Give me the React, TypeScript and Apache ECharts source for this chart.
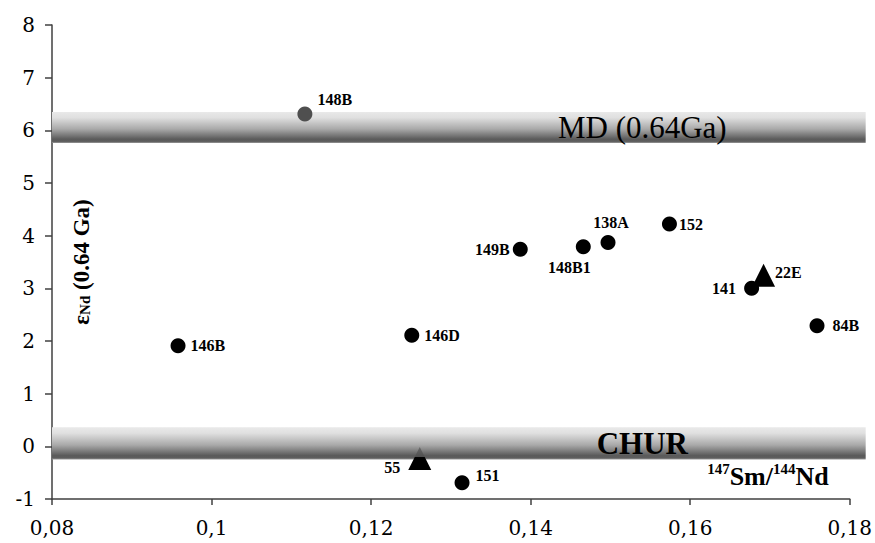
import React, { useEffect, useRef } from "react";
import * as echarts from "echarts";

// Sample points (147Sm/144Nd, εNd at 0.64 Ga)
const circleNames = ["148B", "146B", "146D", "149B", "148B1", "138A", "152", "141", "84B", "151"];
const circleX = [0.1117, 0.0958, 0.1251, 0.1387, 0.1466, 0.1497, 0.1574, 0.1677, 0.1759, 0.1314];
const circleY = [6.31, 1.91, 2.11, 3.74, 3.79, 3.87, 4.22, 3.0, 2.29, -0.69];

const triangleNames = ["22E", "55"];
const triangleX = [0.1692, 0.1261];
const triangleY = [3.25, -0.23];

// Reference bands
const bandNames = ["MD (0.64Ga)", "CHUR"];
const bandTop = [6.35, 0.36];
const bandBottom = [5.76, -0.25];
const bandStartX = 0.08;
const bandEndX = 0.182;
const bandLabelX = 0.154;

const xTicks = { min: 0.08, max: 0.18, interval: 0.02 };
const yTicks = { min: -1, max: 8, interval: 1 };

const SERIF = "'Liberation Serif', 'Times New Roman', serif";
const TICKFONT = "'DejaVu Serif', 'Liberation Serif', serif";

const labelCfg: Record<string, any> = {
  "148B": { position: "right", distance: 5, offset: [0, -15] },
  "146B": { position: "right", distance: 5 },
  "146D": { position: "right", distance: 5 },
  "149B": { position: "left", distance: 3 },
  "148B1": { position: "bottom", distance: 5, offset: [-14, 0] },
  "138A": { position: "top", distance: 5, offset: [3, 0] },
  "152": { position: "right", distance: 2 },
  "141": { position: "left", distance: 8 },
  "84B": { position: "right", distance: 8 },
  "151": { position: "right", distance: 6, offset: [0, -7] },
  "22E": { position: "right", distance: 0, offset: [0, -3] },
  "55": { position: "left", distance: 8, offset: [0, 9] },
};

export default function App() {
  const ref = useRef<HTMLDivElement>(null);

  useEffect(() => {
    if (!ref.current) return;
    const chart = echarts.init(ref.current, undefined, { renderer: "svg" });

    const bandGradient = () =>
      new echarts.graphic.LinearGradient(0, 0, 0, 1, [
        { offset: 0, color: "#e9e9e9" },
        { offset: 0.18, color: "#e0e0e0" },
        { offset: 0.55, color: "#a9a9a9" },
        { offset: 0.88, color: "#5a5a5a" },
        { offset: 0.95, color: "#5e5e5e" },
        { offset: 1, color: "#9a9a9a" },
      ]);

    const bandData = bandNames.map((_, i) => [bandStartX, bandEndX, bandTop[i], bandBottom[i], bandLabelX]);

    const circleData = circleNames.map((n, i) => ({
      name: n,
      value: [circleX[i], circleY[i]],
      itemStyle: n === "148B" ? { color: "#4f4f4f", opacity: 1 } : undefined,
      label: labelCfg[n],
    }));

    const triData = triangleNames.map((n, i) => ({
      name: n,
      value: [triangleX[i], triangleY[i]],
      itemStyle:
        n === "55"
          ? {
              opacity: 1,
              color: new echarts.graphic.LinearGradient(0, 0, 0, 1, [
                { offset: 0, color: "#6a6a6a" },
                { offset: 0.42, color: "#505050" },
                { offset: 0.46, color: "#000000" },
                { offset: 1, color: "#000000" },
              ]),
            }
          : undefined,
      label: labelCfg[n],
    }));

    const pointLabel = {
      show: true,
      formatter: "{b}",
      color: "#000",
      fontFamily: SERIF,
      fontWeight: "bold",
      fontSize: 16,
    };

    chart.setOption({
      animation: false,
      backgroundColor: "#ffffff",
      grid: { left: 52, right: 24, top: 25, bottom: 44, containLabel: false },
      xAxis: {
        type: "value",
        min: xTicks.min,
        max: xTicks.max,
        interval: xTicks.interval,
        name: "{sup|147}{b|Sm/}{sup|144}{b|Nd}",
        nameLocation: "end",
        nameGap: -21,
        nameTextStyle: {
          align: "right",
          verticalAlign: "bottom",
          padding: [0, 0, 8, 0],
          rich: {
            sup: { fontFamily: SERIF, fontWeight: "bold", fontSize: 15, verticalAlign: "top", color: "#000" },
            b: { fontFamily: SERIF, fontWeight: "bold", fontSize: 26, color: "#000", lineHeight: 30 },
          },
        },
        axisLine: { onZero: false, lineStyle: { color: "#404040", width: 1.5 } },
        axisTick: { show: true, inside: false, length: 6, lineStyle: { color: "#404040", width: 1.5 } },
        axisLabel: {
          margin: 19,
          color: "#000",
          fontFamily: TICKFONT,
          fontSize: 20,
          formatter: (v: number) => String(parseFloat(v.toFixed(2))).replace(".", ","),
        },
        splitLine: { show: false },
      },
      yAxis: {
        type: "value",
        min: yTicks.min,
        max: yTicks.max,
        interval: yTicks.interval,
        name: "{e|ε}{s|Nd}{n| (0.64 Ga)}",
        nameLocation: "middle",
        nameGap: -29,
        nameTextStyle: {
          verticalAlign: "middle",
          rich: {
            e: { fontFamily: SERIF, fontWeight: "bold", fontSize: 23, color: "#000" },
            s: { fontFamily: SERIF, fontWeight: "bold", fontSize: 15, color: "#000", verticalAlign: "bottom" },
            n: { fontFamily: SERIF, fontWeight: "bold", fontSize: 23, color: "#000" },
          },
        },
        axisLine: { onZero: false, lineStyle: { color: "#404040", width: 1.5 } },
        axisTick: { show: true, inside: false, length: 7, lineStyle: { color: "#404040", width: 1.5 } },
        axisLabel: { margin: 17, color: "#000", fontFamily: TICKFONT, fontSize: 20 },
        splitLine: { show: false },
      },
      series: [
        {
          type: "custom",
          clip: false,
          z: 1,
          encode: { x: [0, 1, 4], y: [2, 3] },
          data: bandData,
          renderItem: (params: any, api: any) => {
            const x0 = api.value(0);
            const x1 = api.value(1);
            const yT = api.value(2);
            const yB = api.value(3);
            const lx = api.value(4);
            const p0 = api.coord([x0, yT]);
            const p1 = api.coord([x1, yB]);
            const c = api.coord([lx, (yT + yB) / 2]);
            const isChur = params.dataIndex === 1;
            return {
              type: "group",
              children: [
                {
                  type: "rect",
                  shape: { x: p0[0], y: p0[1], width: p1[0] - p0[0], height: p1[1] - p0[1] },
                  style: { fill: bandGradient() },
                },
                {
                  type: "text",
                  style: {
                    text: bandNames[params.dataIndex],
                    x: c[0],
                    y: c[1],
                    align: "center",
                    verticalAlign: "middle",
                    textAlign: "center",
                    textVerticalAlign: "middle",
                    fontFamily: SERIF,
                    fontWeight: isChur ? "bold" : "normal",
                    fontSize: 31,
                    fill: "#000",
                  },
                },
              ],
            };
          },
        },
        {
          type: "scatter",
          z: 3,
          symbol: "circle",
          symbolSize: 15,
          itemStyle: { color: "#000", opacity: 1 },
          label: pointLabel,
          data: circleData,
        },
        {
          type: "scatter",
          z: 3,
          symbol: "triangle",
          symbolSize: [23, 23],
          itemStyle: { color: "#000", opacity: 1 },
          label: pointLabel,
          data: triData,
        },
      ],
    });

    return () => chart.dispose();
  }, []);

  return (
    <div
      ref={ref}
      style={{ position: "fixed", left: 0, top: 0, width: 875, height: 543, background: "#fff" }}
    />
  );
}
